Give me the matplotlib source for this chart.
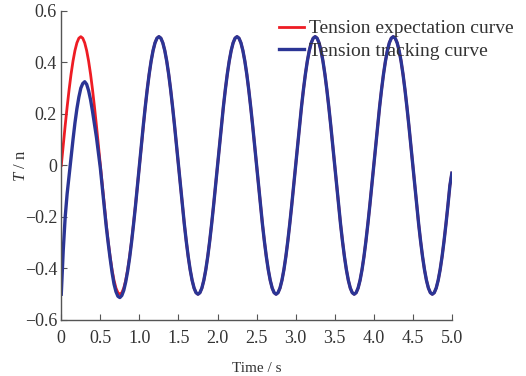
import matplotlib
matplotlib.use('Agg')
import matplotlib.pyplot as plt

plt.rcParams['font.family'] = ['Liberation Serif', 'DejaVu Serif']
plt.rcParams['mathtext.fontset'] = 'custom'
plt.rcParams['mathtext.it'] = 'Liberation Serif:italic'
plt.rcParams['mathtext.rm'] = 'Liberation Serif'

# time samples (s), every 0.025 s
time_s = [round(0.025 * i, 3) for i in range(201)]

# expected tension, one row = half a second
expected = [
    0.0, 0.078, 0.155, 0.227, 0.294, 0.354, 0.405, 0.446, 0.476, 0.494, 0.5, 0.494, 0.476, 0.446, 0.405, 0.354, 0.294, 0.227, 0.155, 0.078,
    0.0, -0.078, -0.155, -0.227, -0.294, -0.354, -0.405, -0.446, -0.476, -0.494, -0.5, -0.494, -0.476, -0.446, -0.405, -0.354, -0.294, -0.227, -0.155, -0.078,
    0.0, 0.078, 0.155, 0.227, 0.294, 0.354, 0.405, 0.446, 0.476, 0.494, 0.5, 0.494, 0.476, 0.446, 0.405, 0.354, 0.294, 0.227, 0.155, 0.078,
    0.0, -0.078, -0.155, -0.227, -0.294, -0.354, -0.405, -0.446, -0.476, -0.494, -0.5, -0.494, -0.476, -0.446, -0.405, -0.354, -0.294, -0.227, -0.155, -0.078,
    0.0, 0.078, 0.155, 0.227, 0.294, 0.354, 0.405, 0.446, 0.476, 0.494, 0.5, 0.494, 0.476, 0.446, 0.405, 0.354, 0.294, 0.227, 0.155, 0.078,
    0.0, -0.078, -0.155, -0.227, -0.294, -0.354, -0.405, -0.446, -0.476, -0.494, -0.5, -0.494, -0.476, -0.446, -0.405, -0.354, -0.294, -0.227, -0.155, -0.078,
    0.0, 0.078, 0.155, 0.227, 0.294, 0.354, 0.405, 0.446, 0.476, 0.494, 0.5, 0.494, 0.476, 0.446, 0.405, 0.354, 0.294, 0.227, 0.155, 0.078,
    0.0, -0.078, -0.155, -0.227, -0.294, -0.354, -0.405, -0.446, -0.476, -0.494, -0.5, -0.494, -0.476, -0.446, -0.405, -0.354, -0.294, -0.227, -0.155, -0.078,
    0.0, 0.078, 0.155, 0.227, 0.294, 0.354, 0.405, 0.446, 0.476, 0.494, 0.5, 0.494, 0.476, 0.446, 0.405, 0.354, 0.294, 0.227, 0.155, 0.078,
    0.0, -0.078, -0.155, -0.227, -0.294, -0.354, -0.405, -0.446, -0.476, -0.494, -0.5, -0.494, -0.476, -0.446, -0.405, -0.354, -0.294, -0.227, -0.155, -0.078,
    -0.03,
]

# tracked tension
tracked = [
    -0.5, -0.33, -0.2, -0.11, -0.04, 0.03, 0.10, 0.165, 0.22, 0.265, 0.30, 0.318, 0.325, 0.315, 0.29, 0.255, 0.21, 0.16, 0.11, 0.05,
    -0.01, -0.085, -0.16, -0.235, -0.30, -0.36, -0.415, -0.46, -0.49, -0.508, -0.513, -0.505, -0.485, -0.452, -0.41, -0.358, -0.297, -0.229, -0.157, -0.079,
    0.0, 0.078, 0.155, 0.227, 0.294, 0.354, 0.405, 0.446, 0.476, 0.494, 0.5, 0.494, 0.476, 0.446, 0.405, 0.354, 0.294, 0.227, 0.155, 0.078,
    0.0, -0.078, -0.155, -0.227, -0.294, -0.354, -0.405, -0.446, -0.476, -0.494, -0.5, -0.494, -0.476, -0.446, -0.405, -0.354, -0.294, -0.227, -0.155, -0.078,
    0.0, 0.078, 0.155, 0.227, 0.294, 0.354, 0.405, 0.446, 0.476, 0.494, 0.5, 0.494, 0.476, 0.446, 0.405, 0.354, 0.294, 0.227, 0.155, 0.078,
    0.0, -0.078, -0.155, -0.227, -0.294, -0.354, -0.405, -0.446, -0.476, -0.494, -0.5, -0.494, -0.476, -0.446, -0.405, -0.354, -0.294, -0.227, -0.155, -0.078,
    0.0, 0.078, 0.155, 0.227, 0.294, 0.354, 0.405, 0.446, 0.476, 0.494, 0.5, 0.494, 0.476, 0.446, 0.405, 0.354, 0.294, 0.227, 0.155, 0.078,
    0.0, -0.078, -0.155, -0.227, -0.294, -0.354, -0.405, -0.446, -0.476, -0.494, -0.5, -0.494, -0.476, -0.446, -0.405, -0.354, -0.294, -0.227, -0.155, -0.078,
    0.0, 0.078, 0.155, 0.227, 0.294, 0.354, 0.405, 0.446, 0.476, 0.494, 0.5, 0.494, 0.476, 0.446, 0.405, 0.354, 0.294, 0.227, 0.155, 0.078,
    0.0, -0.078, -0.155, -0.227, -0.294, -0.354, -0.405, -0.446, -0.476, -0.494, -0.5, -0.494, -0.476, -0.446, -0.405, -0.354, -0.294, -0.227, -0.155, -0.078,
    -0.03,
]

x_ticks = [0, 0.5, 1.0, 1.5, 2.0, 2.5, 3.0, 3.5, 4.0, 4.5, 5.0]
x_labels = ['0', '0.5', '1.0', '1.5', '2.0', '2.5', '3.0', '3.5', '4.0', '4.5', '5.0']
y_ticks = [-0.6, -0.4, -0.2, 0, 0.2, 0.4, 0.6]
y_labels = ['\u22120.6', '\u22120.4', '\u22120.2', '0', '0.2', '0.4', '0.6']

text_color = '#333333'

fig = plt.figure(figsize=(5.26, 3.76), dpi=100)
ax = fig.add_axes([0.1165, 0.149, 0.7425, 0.822])

ax.plot(time_s, expected, color='#ee1c24', lw=2.0, label='Tension expectation curve')
ax.plot(time_s, tracked, color='#2b3595', lw=2.4, label='Tension tracking curve')

ax.set_xlim(0, 5)
ax.set_ylim(-0.6, 0.6)
ax.set_xticks(x_ticks)
ax.set_xticklabels(x_labels)
ax.set_yticks(y_ticks)
ax.set_yticklabels(y_labels)

for side in ['top', 'right']:
    ax.spines[side].set_visible(False)
for side in ['left', 'bottom']:
    ax.spines[side].set_color('#555555')
    ax.spines[side].set_linewidth(1.0)

ax.tick_params(direction='in', length=4, width=0.8, color='#555555',
               labelsize=13, labelcolor=text_color)
ax.tick_params(axis='x', pad=7)
ax.tick_params(axis='y', pad=3)

ax.set_xlabel('Time / s', fontsize=11, color=text_color, labelpad=11)
ax.set_ylabel('$T$ / n', fontsize=12, color=text_color, labelpad=-3)

fig.legend(loc='upper left', bbox_to_anchor=(0.515, 0.968), frameon=False,
           fontsize=14, handlelength=1.3, handletextpad=0.25,
           labelspacing=0.25, borderaxespad=0, labelcolor=text_color)

fig.savefig('out.png', dpi=100)
